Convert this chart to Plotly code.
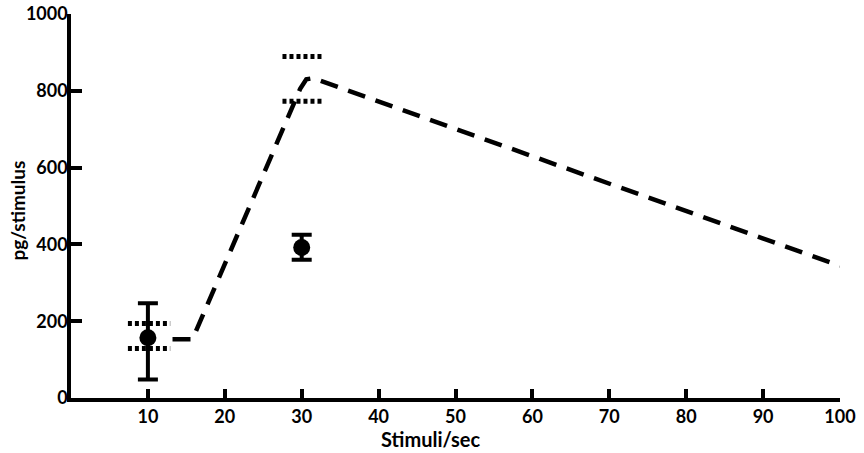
import plotly.graph_objects as go

# Measured means with error bars
stim_rate = [10, 30]
pg_mean = [157, 392]
err_plus = [90, 33]
err_minus = [109, 32]

# Dotted range lines (level, x start, x end)
dot_levels = [194, 129, 889, 773]
dot_x_start = [7.4, 7.4, 27.5, 27.5]
dot_x_end = [12.9, 12.9, 32.9, 32.9]

# Dashed predicted curve
dash_x = [13.2, 15.8, 29.8, 30.6, 31.5, 100]
dash_y = [153, 153, 805, 830, 833, 344]

x_ticks = [10, 20, 30, 40, 50, 60, 70, 80, 90, 100]
y_ticks = [0, 200, 400, 600, 800, 1000]

x_title = "Stimuli/sec"
y_title = "pg/stimulus"

fig = go.Figure()

fig.add_trace(go.Scatter(
    x=dash_x, y=dash_y, mode="lines",
    line=dict(color="black", width=4.5, dash="18px,11px"),
    cliponaxis=False, showlegend=False, hoverinfo="skip"))

for lvl, xs, xe in zip(dot_levels, dot_x_start, dot_x_end):
    fig.add_trace(go.Scatter(
        x=[xs, xe], y=[lvl, lvl], mode="lines",
        line=dict(color="black", width=5, dash="4px,3px"),
        cliponaxis=False, showlegend=False, hoverinfo="skip"))

fig.add_trace(go.Scatter(
    x=stim_rate, y=pg_mean, mode="markers",
    marker=dict(color="black", size=17),
    error_y=dict(type="data", symmetric=False, array=err_plus, arrayminus=err_minus,
                 color="black", thickness=4, width=10),
    cliponaxis=False, showlegend=False))

font_family = "Lato, 'Open Sans', sans-serif"

fig.update_layout(
    width=864, height=453,
    margin=dict(l=71, r=24, t=14, b=55),
    paper_bgcolor="white", plot_bgcolor="white",
    font=dict(family=font_family, color="black"),
    xaxis=dict(
        range=[0, 100], tickvals=x_ticks, ticktext=[str(v) for v in x_ticks],
        automargin=False,
        showgrid=False, zeroline=False, showline=True, linecolor="black", linewidth=3.5,
        ticks="inside", ticklen=9, tickwidth=3.5, tickcolor="black",
        tickfont=dict(size=18, family=font_family, weight="bold"),
    ),
    yaxis=dict(
        range=[0, 1000], tickvals=y_ticks, ticktext=[str(v) for v in y_ticks],
        automargin=False,
        showgrid=False, zeroline=False, showline=True, linecolor="black", linewidth=3.5,
        ticks="inside", ticklen=11, tickwidth=3.5, tickcolor="black",
        ticklabelstandoff=-4,
        tickfont=dict(size=18, family=font_family, weight="bold"),
    ),
    annotations=[
        dict(text=x_title, xref="paper", yref="paper", x=0.468, y=-0.107,
             xanchor="center", yanchor="middle", showarrow=False,
             font=dict(size=20, family=font_family, weight="bold", color="black")),
        dict(text=y_title, xref="paper", yref="paper", x=-0.069, y=0.488,
             xanchor="center", yanchor="middle", textangle=-90, showarrow=False,
             font=dict(size=19, family=font_family, weight="bold", color="black")),
    ],
)

# remove the default 8px page margin so the 864x453 figure fills the window
fig.write_html("out.html", config={"displayModeBar": False},
               post_script="document.body.style.margin='0';")
